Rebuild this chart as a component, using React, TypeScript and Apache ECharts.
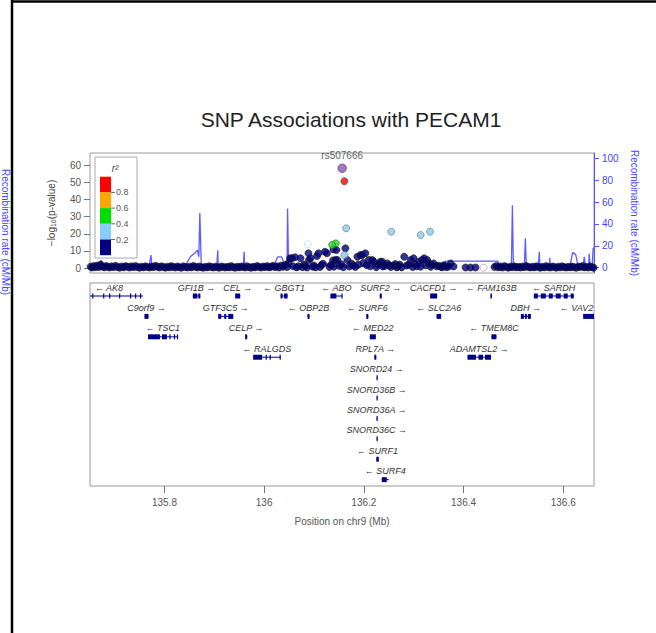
import React, { useEffect, useRef } from "react";
import * as echarts from "echarts";

const X_MIN = 135.6507;
const X_MAX = 136.6617;

const titleText = "SNP Associations with PECAM1";
const leadSnpName = "rs507666";
const xTicks = [135.8, 136, 136.2, 136.4, 136.6];
const pTicks = [0, 10, 20, 30, 40, 50, 60];
const recombTicks = [0, 20, 40, 60, 80, 100];
const legendLabels = ["0.8", "0.6", "0.4", "0.2"];
const legendColors = ["#ff0000", "#ffa500", "#00e000", "#87cefa", "#000080"];

const leadSnp = [[136.1566, 58.3]];
const redPoints = [[136.161, 50.7]];
const greenPoints = [[136.1437, 14.4], [136.1365, 13.5]];
const lightBluePoints = [[136.1646, 23.2], [136.255, 21.2], [136.314, 19.3], [136.3327, 21.2], [136.161, 7.6]];
const hollowBluePoints = [[136.0874, 13.9]];
const hollowGreyPoints = [[136.44, 0.2]];
const navyPoints = [
  [135.652,0.8],[135.655,0.3],[135.658,1.1],[135.662,0.5],[135.665,1.4],[135.669,0.6],[135.672,2.0],[135.675,0.9],[135.679,0.4],[135.683,1.2],
  [135.686,0.7],[135.690,0.3],[135.694,1.0],[135.698,0.5],[135.702,1.3],[135.706,0.6],[135.710,0.2],[135.714,0.9],[135.718,0.4],[135.722,1.1],
  [135.726,0.7],[135.730,0.3],[135.734,1.0],[135.738,0.5],[135.742,1.2],[135.746,0.6],[135.750,0.2],[135.754,0.8],[135.758,0.4],[135.762,1.0],
  [135.766,0.6],[135.770,0.3],[135.774,0.9],[135.778,0.5],[135.782,1.3],[135.786,0.7],[135.790,0.3],[135.794,1.0],[135.798,0.6],[135.802,0.2],
  [135.806,0.8],[135.810,0.4],[135.814,1.1],[135.818,0.6],[135.822,0.3],[135.826,0.9],[135.830,0.5],[135.834,0.2],[135.838,1.0],[135.842,0.6],
  [135.846,0.3],[135.850,0.8],[135.854,0.4],[135.858,1.2],[135.862,0.7],[135.866,0.3],[135.870,0.9],[135.874,0.5],[135.878,0.2],[135.882,0.7],
  [135.886,0.4],[135.890,1.0],[135.894,0.6],[135.898,0.3],[135.902,0.8],[135.906,0.5],[135.910,0.2],[135.914,0.9],[135.918,0.6],[135.922,0.3],
  [135.926,0.7],[135.930,0.4],[135.934,1.1],[135.938,0.5],[135.942,0.2],[135.946,0.8],[135.950,0.4],[135.954,0.9],[135.958,0.6],[135.962,0.3],
  [135.966,1.0],[135.970,0.5],[135.974,0.2],[135.978,0.7],[135.982,0.4],[135.986,1.2],[135.990,0.6],[135.994,0.3],[135.998,0.9],[136.002,0.5],
  [136.006,1.1],[136.010,0.4],[136.014,0.8],[136.018,1.3],[136.022,0.5],[136.026,1.0],[136.030,0.3],[136.034,1.4],[136.038,0.7],[136.042,1.8],
  [136.046,0.6],
  [136.049,3.0],[136.052,5.7],[136.056,5.7],[136.058,1.0],[136.062,6.3],[136.065,0.4],[136.069,1.0],[136.073,5.7],[136.077,0.5],[136.080,2.0],
  [136.083,1.2],[136.086,0.3],[136.089,8.6],[136.090,4.7],[136.093,5.7],[136.097,0.8],[136.100,1.5],[136.103,0.4],[136.106,7.0],[136.109,8.6],
  [136.112,0.6],[136.115,1.8],[136.118,2.5],[136.122,9.5],[136.126,8.6],[136.131,0.6],[136.134,1.8],[136.138,4.4],[136.139,10.9],[136.140,0.8],
  [136.143,4.7],[136.145,10.5],[136.147,4.7],[136.151,1.2],[136.155,2.2],[136.159,0.5],[136.163,11.5],[136.167,4.7],[136.171,0.9],[136.175,2.6],
  [136.179,1.5],[136.183,0.6],[136.187,6.6],[136.189,2.0],[136.193,7.6],[136.197,7.6],[136.199,3.0],[136.203,8.6],[136.206,1.6],[136.210,4.7],
  [136.213,1.0],[136.217,4.7],[136.220,3.7],[136.225,0.5],[136.228,1.9],[136.233,3.7],[136.237,3.7],[136.238,0.9],[136.242,1.2],[136.247,2.7],
  [136.251,1.7],[136.254,0.6],[136.260,1.4],[136.263,2.3],[136.266,0.4],[136.269,1.1],[136.272,2.0],[136.276,0.4],[136.281,6.6],[136.286,1.5],
  [136.290,1.9],[136.294,4.7],[136.298,0.6],[136.300,5.7],[136.303,2.2],[136.306,1.0],[136.311,3.7],[136.314,0.8],[136.317,4.7],[136.321,5.7],
  [136.324,1.6],[136.327,4.7],[136.331,2.7],[136.334,0.7],[136.337,1.8],[136.340,2.7],[136.346,1.0],[136.350,1.3],[136.354,0.8],[136.357,0.4],
  [136.360,1.6],[136.363,1.2],[136.366,0.5],[136.370,0.9],[136.374,2.7],[136.380,0.9],
  [136.404,0.3],[136.414,0.3],[136.424,0.3],
  [136.462,0.6],[136.466,1.2],[136.470,0.4],[136.474,0.9],[136.478,0.3],[136.482,1.1],[136.486,0.6],[136.490,0.2],[136.494,0.8],[136.498,0.5],
  [136.502,1.0],[136.506,0.4],[136.510,0.7],[136.514,0.3],[136.518,0.9],[136.522,0.5],[136.526,1.2],[136.530,0.6],[136.534,0.3],[136.538,0.8],
  [136.542,0.4],[136.546,1.0],[136.550,0.6],[136.554,0.2],[136.558,0.7],[136.562,0.4],[136.566,1.1],[136.570,0.5],[136.574,0.3],[136.578,0.9],
  [136.582,0.6],[136.586,0.2],[136.590,0.8],[136.594,0.4],[136.598,1.0],[136.602,0.5],[136.606,0.3],[136.610,0.7],[136.614,0.4],[136.618,0.9],
  [136.622,0.5],[136.626,0.2],[136.630,0.8],[136.634,0.6],[136.638,1.1],[136.642,0.4],[136.646,0.7],[136.650,0.3],[136.654,0.9],[136.658,0.5],
  [136.661,0.2],
];

const recombRate = [
  [135.651,1],[135.669,1],[135.673,7],[135.677,1],[135.769,1],[135.773,11.6],[135.775,1],[135.842,2],[135.852,10],[135.862,14],
  [135.866,16],[135.869,10],[135.871,50],[135.874,1],[135.905,1],[135.907,16],[135.908,1],[135.958,1],[135.960,14.6],[135.961,1],
  [136.020,2],[136.027,10],[136.035,10],[136.041,3],[136.046,2],[136.047,54],[136.049,1],[136.113,2],[136.121,5],[136.129,1],
  [136.254,1],[136.354,2],[136.364,6],[136.469,6],[136.473,1],[136.496,1],[136.498,57],[136.500,1],[136.522,1],[136.524,27],
  [136.526,1],[136.550,1],[136.552,14.6],[136.553,1],[136.572,1],[136.573,9],[136.574,1],[136.613,1],[136.619,14],[136.625,12],
  [136.630,1],[136.640,1],[136.642,10],[136.645,1],[136.651,1],[136.652,13],[136.654,1],[136.658,1],[136.660,18],[136.662,18],
];

// name, start (Mb), end (Mb), row, strand
const genes: [string, number, number, number, number][] = [
  ["AK8", 135.62, 135.757, 1, -1],
  ["GFI1B", 135.857, 135.872, 1, 1],
  ["CEL", 135.942, 135.952, 1, 1],
  ["GBGT1", 136.033, 136.047, 1, -1],
  ["ABO", 136.133, 136.157, 1, -1],
  ["SURF2", 136.232, 136.236, 1, 1],
  ["CACFD1", 136.333, 136.347, 1, 1],
  ["FAM163B", 136.454, 136.457, 1, -1],
  ["SARDH", 136.541, 136.621, 1, -1],
  ["C9orf9", 135.76, 135.768, 2, 1],
  ["GTF3C5", 135.908, 135.938, 2, 1],
  ["OBP2B", 136.087, 136.091, 2, -1],
  ["SURF6", 136.205, 136.209, 2, -1],
  ["SLC2A6", 136.346, 136.355, 2, -1],
  ["DBH", 136.515, 136.535, 2, 1],
  ["VAV2", 136.64, 136.7, 2, -1],
  ["TSC1", 135.767, 135.826, 3, -1],
  ["CELP", 135.962, 135.966, 3, 1],
  ["MED22", 136.212, 136.224, 3, -1],
  ["TMEM8C", 136.456, 136.466, 3, -1],
  ["RALGDS", 135.978, 136.033, 4, -1],
  ["RPL7A", 136.221, 136.225, 4, 1],
  ["ADAMTSL2", 136.408, 136.455, 4, 1],
  ["SNORD24", 136.2255, 136.2262, 5, 1],
  ["SNORD36B", 136.2255, 136.2262, 6, 1],
  ["SNORD36A", 136.2255, 136.2262, 7, 1],
  ["SNORD36C", 136.2255, 136.2262, 8, 1],
  ["SURF1", 136.225, 136.23, 9, -1],
  ["SURF4", 136.236, 136.25, 10, -1],
];

const geneExons: Record<string, number[][]> = {
  AK8: [[135.655, 135.657], [135.677, 135.679], [135.689, 135.691], [135.709, 135.711], [135.731, 135.733], [135.741, 135.743], [135.751, 135.753]],
  GFI1B: [[135.857, 135.866], [135.868, 135.872]],
  GBGT1: [[136.033, 136.037], [136.04, 136.047]],
  ABO: [[136.133, 136.145], [136.155, 136.157]],
  SARDH: [[136.541, 136.549], [136.555, 136.565], [136.571, 136.579], [136.585, 136.595], [136.601, 136.609], [136.615, 136.621]],
  GTF3C5: [[135.908, 135.914], [135.92, 135.924], [135.928, 135.938]],
  DBH: [[136.515, 136.521], [136.523, 136.527], [136.529, 136.535]],
  TSC1: [[135.767, 135.791], [135.795, 135.805], [135.81, 135.812], [135.819, 135.821], [135.825, 135.826]],
  RALGDS: [[135.978, 135.996], [136.003, 136.005], [136.011, 136.013], [136.031, 136.033]],
  ADAMTSL2: [[136.408, 136.425], [136.43, 136.439], [136.443, 136.455]],
  SURF4: [[136.236, 136.246]],
};

const FONT = "Liberation Sans, Arial, Helvetica, sans-serif";

function scatter(name: string, data: number[][], color: string, border: string, size = 7, extra: any = {}) {
  return {
    name,
    type: "scatter",
    xAxisIndex: 0,
    yAxisIndex: 0,
    data,
    symbol: "circle",
    symbolSize: size,
    itemStyle: { color, borderColor: border, borderWidth: 0.8 },
    z: 3,
    ...extra,
  };
}

export default function App() {
  const ref = useRef<HTMLDivElement>(null);
  useEffect(() => {
    if (!ref.current) return;
    const chart = echarts.init(ref.current, undefined, { renderer: "svg" });
    const legendTop = 176.7;
    const segH = 15.7;
    const legendGraphics: any[] = [
      { type: "rect", shape: { x: 95, y: 157, width: 42, height: 101 }, style: { fill: "#fff", stroke: "#aaa", lineWidth: 1 }, z: 10 },
      {
        type: "text", x: 115, y: 168, z: 11,
        style: { text: "r²", font: `italic 10px ${FONT}`, fill: "#444", textAlign: "center", textVerticalAlign: "middle" },
      },
    ];
    legendColors.forEach((c, i) => {
      legendGraphics.push({ type: "rect", shape: { x: 100, y: legendTop + i * segH, width: 11, height: segH }, style: { fill: c }, z: 11 });
    });
    legendLabels.forEach((t, i) => {
      const y = legendTop + (i + 1) * segH;
      legendGraphics.push({ type: "line", shape: { x1: 111, y1: y, x2: 115, y2: y }, style: { stroke: "#666", lineWidth: 1 }, z: 11 });
      legendGraphics.push({
        type: "text", x: 116, y, z: 11,
        style: { text: t, font: `9px ${FONT}`, fill: "#555", textAlign: "left", textVerticalAlign: "middle" },
      });
    });

    const option: any = {
      animation: false,
      textStyle: { fontFamily: FONT },
      title: {
        text: titleText,
        left: 346,
        top: 104,
        textAlign: "center",
        textStyle: { fontSize: 21, fontWeight: "normal", color: "#222", fontFamily: FONT },
      },
      grid: [
        { left: 90, top: 153, width: 504, height: 120, show: true, borderColor: "#999", borderWidth: 1, backgroundColor: "transparent" },
        { left: 90, top: 283, width: 504, height: 203, show: true, borderColor: "#999", borderWidth: 1, backgroundColor: "transparent" },
      ],
      xAxis: [
        { type: "value", gridIndex: 0, min: X_MIN, max: X_MAX, show: false },
        {
          type: "value", gridIndex: 1, min: X_MIN, max: X_MAX,
          axisLine: { show: false },
          splitLine: { show: false },
          axisTick: { show: true, length: 7, lineStyle: { color: "#777" }, customValues: xTicks },
          axisLabel: {
            customValues: xTicks, color: "#555", fontSize: 10, margin: 11,
            formatter: (v: number) => String(Math.round(v * 10) / 10),
          },
          name: "Position on chr9 (Mb)",
          nameLocation: "middle",
          nameGap: 30,
          nameTextStyle: { color: "#555", fontSize: 10 },
        },
      ],
      yAxis: [
        {
          type: "value", gridIndex: 0, min: -2.9, max: 67.2, position: "left",
          axisLine: { show: false },
          splitLine: { show: false },
          axisTick: { show: true, length: 6, lineStyle: { color: "#777" }, customValues: pTicks },
          axisLabel: { customValues: pTicks, color: "#555", fontSize: 10, margin: 9 },
          name: "{a|−log}{s|10}{a|(p-value)}",
          nameLocation: "middle",
          nameGap: 33,
          nameRotate: 90,
          nameTextStyle: {
            rich: {
              a: { fontSize: 10, color: "#444" },
              s: { fontSize: 7, color: "#444", verticalAlign: "bottom", padding: [4, 0, 0, 0] },
            },
          },
        },
        {
          type: "value", gridIndex: 0, min: -4.8, max: 104.8, position: "right",
          axisLine: { show: true, lineStyle: { color: "#5555ff" } },
          splitLine: { show: false },
          axisTick: { show: true, length: 5, lineStyle: { color: "#5555ff" }, customValues: recombTicks },
          axisLabel: { customValues: recombTicks, color: "#4444ff", fontSize: 10, margin: 8 },
          name: "Recombination rate (cM/Mb)",
          nameLocation: "middle",
          nameGap: 32,
          nameRotate: -90,
          nameTextStyle: { color: "#4444ff", fontSize: 10 },
        },
        { type: "value", gridIndex: 1, min: 0.363, max: 10.31, inverse: true, show: false },
      ],
      graphic: [
        { type: "line", shape: { x1: 12, y1: 0, x2: 12, y2: 633 }, style: { stroke: "#000", lineWidth: 2.5 } },
        { type: "line", shape: { x1: 12, y1: 1.5, x2: 656, y2: 1.5 }, style: { stroke: "#000", lineWidth: 2.5 } },
        {
          type: "text", x: 5, y: 232, rotation: -Math.PI / 2,
          style: { text: "Recombination rate (cM/Mb)", font: `10px ${FONT}`, fill: "#4444ff", textAlign: "center", textVerticalAlign: "middle" },
        },
        ...legendGraphics,
      ],
      series: [
        {
          name: "recomb",
          type: "line",
          xAxisIndex: 0,
          yAxisIndex: 1,
          data: recombRate,
          showSymbol: false,
          lineStyle: { color: "#4040ff", width: 1.3, opacity: 0.85 },
          z: 1,
        },
        scatter("navy", navyPoints, "#000080", "#111"),
        scatter("hollowBlue", hollowBluePoints, "#ffffff", "#9fd0ee", 7),
        scatter("hollowGrey", hollowGreyPoints, "#ffffff", "#999", 7),
        scatter("lightblue", lightBluePoints, "#8ec8e6", "#557a90"),
        scatter("green", greenPoints, "#22dd22", "#336633"),
        scatter("red", redPoints, "#ff0000", "#444"),
        scatter("lead", leadSnp, "#9252b5", "#444", 8.5, {
          label: { show: true, formatter: leadSnpName, position: "top", distance: 3, color: "#333", fontSize: 10 },
        }),
        {
          name: "genes",
          type: "custom",
          xAxisIndex: 1,
          yAxisIndex: 2,
          clip: false,
          data: genes.map((g) => [g[1], g[2], g[3]]),
          encode: { x: [0, 1], y: 2 },
          renderItem: (params: any, api: any) => {
            const g = genes[params.dataIndex];
            const cs = params.coordSys;
            const lo = cs.x;
            const hi = cs.x + cs.width;
            const row = api.value(2);
            const p0 = api.coord([api.value(0), row]);
            const p1 = api.coord([api.value(1), row]);
            const x0 = Math.max(lo, p0[0]);
            const x1 = Math.min(hi, p1[0]);
            const y = p0[1];
            const col = "#00008b";
            const children: any[] = [
              { type: "rect", shape: { x: x0, y: y - 0.5, width: Math.max(x1 - x0, 1), height: 1 }, style: { fill: col } },
            ];
            const ex = geneExons[g[0]] || [[api.value(0), api.value(1)]];
            ex.forEach(([a, b]) => {
              const e0 = Math.max(lo, api.coord([a, row])[0]);
              const e1 = Math.min(hi, api.coord([b, row])[0]);
              children.push({ type: "rect", shape: { x: e0, y: y - 2.5, width: Math.max(e1 - e0, 1.2), height: 5 }, style: { fill: col } });
            });
            const text = g[4] < 0 ? "\u2190 " + g[0] : g[0] + " \u2192";
            const w = text.length * 5.2;
            let cx = (p0[0] + p1[0]) / 2;
            cx = Math.min(Math.max(cx, lo + 2 + w / 2), hi - 2 - w / 2);
            children.push({
              type: "text",
              x: cx,
              y: y - 4,
              style: { text, font: `italic 9px ${FONT}`, fill: "#333", textAlign: "center", textVerticalAlign: "bottom" },
            });
            return { type: "group", children };
          },
          z: 2,
        },
      ],
    };
    chart.setOption(option);
    return () => chart.dispose();
  }, []);
  return <div ref={ref} style={{ position: "fixed", left: 0, top: 0, width: 656, height: 633, background: "#fff" }} />;
}
